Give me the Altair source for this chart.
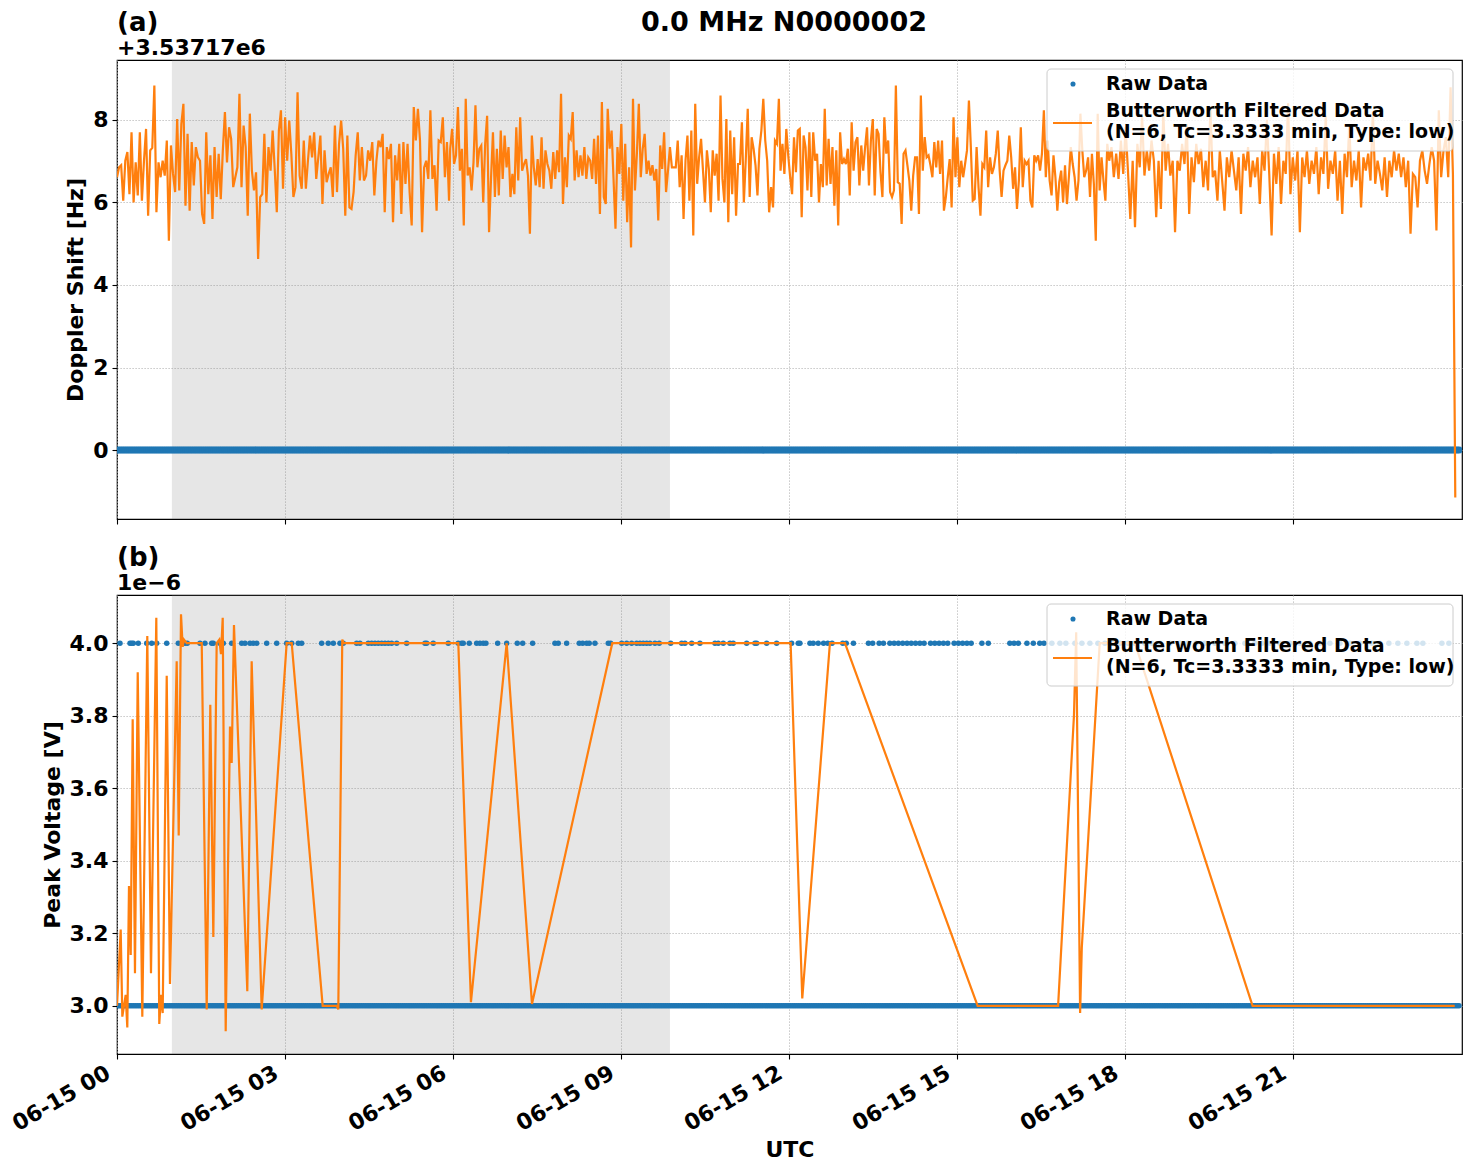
import altair as alt
import numpy as np
import pandas as pd

# ---------------- text ----------------
MAIN_TITLE = "0.0 MHz N0000002"
PANEL_LABELS = ["(a)", "(b)"]
OFFSET_LABELS = ["+3.53717e6", "1e\u22126"]
Y_TITLES = ["Doppler Shift [Hz]", "Peak Voltage [V]"]
X_TITLE = "UTC"
LEGEND_RAW = "Raw Data"
LEGEND_FILT = "Butterworth Filtered Data\n(N=6, Tc=3.3333 min, Type: low)"

X_TICKS = [0, 3, 6, 9, 12, 15, 18, 21]
X_TICK_LABELS = ["06-15 00", "06-15 03", "06-15 06", "06-15 09",
                 "06-15 12", "06-15 15", "06-15 18", "06-15 21"]
X_DOMAIN = [0.0, 24.02]
SHADE_HOURS = [0.98, 9.875]

Y_TICKS_A = [0, 2, 4, 6, 8]
Y_DOMAIN_A = [-1.67, 9.45]
Y_TICKS_B = [3.0, 3.2, 3.4, 3.6, 3.8, 4.0]
Y_DOMAIN_B = [2.867, 4.133]

# ---------------- panel (a) data ----------------
# filtered Doppler shift (Hz, relative to 3.53717e6), four consecutive stretches
DOPPLER_SEG_HOURS = [(0.0, 5.93), (5.95, 11.82), (11.85, 17.72), (17.76, 23.90)]
DOPPLER_SEG_A = [
    6.61, 6.85, 6.9, 6.04, 7.01, 7.22, 6.2, 7.7, 6.0, 6.97,
    6.17, 7.7, 6.04, 7.01, 7.78, 5.68, 7.26, 7.32, 8.83, 5.76,
    6.97, 6.61, 7.01, 6.65, 7.5, 5.07, 7.38, 6.69, 6.25, 8.02,
    6.29, 7.9, 8.39, 5.92, 7.66, 5.8, 7.46, 6.41, 7.34, 7.09,
    7.01, 5.72, 5.48, 7.7, 6.2, 7.14, 5.6, 7.34, 6.13, 7.18,
    6.08, 7.26, 8.19, 6.97, 7.82, 7.54, 6.37, 6.61, 6.85, 8.63,
    6.37, 7.86, 7.34, 5.68, 8.15, 6.77, 6.29, 6.73, 4.63, 6.13,
    6.2, 7.66, 6.0, 7.34, 6.77, 7.74, 6.81, 5.76, 7.74, 8.23,
    6.33, 8.06, 7.01, 7.98, 7.18, 6.13, 6.37, 8.67, 6.65, 6.33,
    7.5, 6.33, 7.01, 7.62, 7.09, 7.7, 6.57, 7.09, 7.62, 5.96,
    7.26, 6.49, 6.69, 6.85, 6.13, 7.86, 6.25, 7.42, 7.98, 7.3,
    5.68, 7.62, 5.88, 5.84, 6.25, 7.14, 7.7, 6.53, 7.34, 6.53,
    6.65, 7.26, 7.01, 7.46, 6.17, 7.01, 7.5, 7.34, 7.66, 5.76,
    7.34, 7.05, 7.42, 5.52, 7.14, 6.53, 7.42, 5.72, 7.46, 6.45,
    7.42, 6.25, 5.44, 8.31, 7.5, 8.27, 7.5, 5.28, 6.85, 7.01,
    6.57, 8.23, 6.57, 6.9, 5.8, 7.5, 7.46, 8.06, 6.61, 7.46,
    6.04,
]
DOPPLER_SEG_B = [
    7.3, 7.78, 6.93, 7.14, 8.31, 6.77, 7.3, 5.44, 8.51, 6.65,
    6.85, 6.29, 6.97, 8.35, 6.85, 7.3, 7.38, 6.0, 7.42, 8.1,
    5.28, 6.57, 7.7, 6.13, 7.3, 6.17, 7.74, 6.57, 7.62, 6.85,
    7.34, 6.13, 6.69, 6.2, 7.82, 6.53, 8.06, 6.77, 6.93, 7.05,
    6.65, 5.24, 7.62, 6.85, 6.41, 7.05, 6.37, 7.58, 6.33, 7.26,
    6.93, 6.77, 6.33, 7.22, 6.57, 7.26, 6.73, 8.63, 5.96, 7.09,
    6.37, 7.62, 7.54, 8.19, 6.53, 7.26, 6.61, 7.14, 6.65, 7.34,
    6.57, 7.09, 7.01, 6.57, 7.54, 6.45, 7.62, 5.72, 8.43, 6.13,
    5.96, 8.27, 7.3, 7.74, 6.57, 5.36, 7.34, 6.69, 7.9, 6.04,
    7.42, 5.52, 6.85, 4.91, 8.51, 6.29, 7.18, 8.39, 6.61, 7.3,
    7.66, 6.69, 7.01, 6.65, 6.9, 6.53, 6.81, 5.56, 7.38, 6.81,
    7.7, 6.25, 6.77, 7.34, 6.85, 6.85, 6.85, 7.5, 6.37, 7.14,
    5.6, 7.01, 7.62, 6.04, 7.74, 5.2, 8.39, 6.45, 7.09, 7.54,
    6.77, 6.0, 7.26, 6.81, 5.76, 7.26, 6.65, 7.18, 6.04, 8.59,
    6.57, 6.0, 8.02, 5.52, 7.74, 6.2, 7.58, 5.68, 6.93, 6.93,
    7.94, 6.0, 7.05, 8.27, 6.13, 7.58, 7.3, 6.9, 6.17, 7.3,
    7.74, 8.51, 7.5, 7.01, 5.76, 6.37, 5.88, 7.5, 7.42, 8.51,
]
DOPPLER_SEG_C = [
    6.77, 7.42, 6.69, 7.78, 7.14, 6.61, 6.2, 7.58, 6.73, 7.74,
    7.78, 5.64, 7.62, 7.34, 6.29, 7.7, 6.13, 7.7, 7.01, 7.18,
    6.0, 6.93, 6.37, 8.27, 6.41, 7.54, 6.45, 7.34, 5.92, 7.26,
    5.44, 7.7, 6.93, 7.05, 6.93, 7.3, 6.17, 7.94, 6.77, 7.46,
    7.58, 6.41, 7.38, 6.77, 7.34, 7.82, 6.41, 7.5, 8.02, 6.17,
    7.78, 7.66, 6.73, 6.13, 8.06, 7.18, 7.5, 6.25, 6.13, 6.29,
    8.83, 6.49, 6.45, 5.48, 7.18, 7.26, 6.9, 6.53, 5.8, 6.65,
    7.09, 7.09, 5.72, 8.59, 6.77, 7.58, 7.09, 7.14, 6.9, 6.61,
    7.46, 6.85, 7.5, 6.69, 7.5, 5.8, 6.13, 6.61, 7.05, 5.88,
    8.06, 6.61, 7.58, 6.37, 7.01, 6.61, 6.93, 7.26, 8.47, 7.34,
    6.04, 6.08, 7.34, 6.37, 5.68, 6.93, 6.85, 7.74, 6.37, 7.09,
    6.69, 6.85, 7.18, 7.74, 6.77, 6.13, 6.77, 6.9, 7.01, 7.62,
    7.09, 6.33, 6.85, 5.84, 6.53, 7.82, 6.37, 7.01, 6.93, 7.01,
    6.04, 5.88, 7.14, 7.01, 7.14, 6.77, 7.18, 8.23, 6.61, 7.5,
    6.53, 6.17, 7.14, 6.61, 5.8, 6.49, 6.77, 6.0, 6.9, 5.96,
    6.61, 7.34, 6.93, 6.61, 6.04, 6.53, 8.15, 7.26, 6.61, 6.77,
    7.09, 6.13, 7.18, 6.45, 5.07, 8.15, 6.29, 7.09, 6.53, 6.04,
    7.42, 7.01,
]
DOPPLER_SEG_D = [
    7.34, 6.61, 7.18, 6.57, 7.5, 6.69, 7.82, 6.77, 5.6, 7.01,
    5.4, 7.42, 6.85, 8.1, 6.65, 7.26, 6.77, 7.5, 7.01, 5.64,
    7.01, 5.84, 8.2, 6.77, 7.42, 6.65, 7.01, 5.28, 7.01, 6.77,
    7.42, 6.93, 7.9, 5.72, 7.09, 6.49, 7.42, 6.93, 7.3, 6.37,
    7.01, 6.29, 8.3, 6.61, 6.77, 6.04, 7.26, 6.53, 5.8, 7.09,
    6.61, 7.26, 6.77, 6.29, 7.09, 5.72, 7.18, 6.77, 7.34, 6.37,
    7.01, 6.61, 7.09, 5.96, 7.26, 6.77, 8.0, 6.69, 5.2, 7.18,
    6.45, 7.34, 5.96, 7.01, 6.69, 8.4, 6.2, 7.09, 6.53, 7.26,
    5.28, 7.09, 6.61, 7.26, 6.45, 7.01, 6.69, 7.34, 6.2, 7.09,
    6.69, 8.1, 6.33, 7.01, 6.69, 7.26, 6.04, 7.01, 5.72, 7.18,
    6.61, 7.9, 6.37, 7.01, 6.53, 7.26, 5.88, 7.09, 6.77, 7.18,
    6.53, 8.2, 6.45, 7.01, 6.69, 6.29, 7.09, 6.13, 7.01, 6.61,
    7.26, 6.77, 7.18, 6.61, 7.09, 6.37, 7.01, 5.24, 6.69, 6.61,
    5.88, 7.01, 7.26, 6.77, 6.45, 6.93, 7.34, 7.01, 5.32, 8.23,
    6.61, 7.26, 7.58, 6.61, 8.79, 6.69, -1.15,
]
RAW_DOPPLER_LEVEL = 0.0          # raw Doppler points all sit at the offset
RAW_SAMPLE_STEP_H = 1.0 / 30.0   # raw sampling every 2 minutes

# ---------------- panel (b) data ----------------
RAW_V_LOW = 3.0
RAW_V_HIGH = 4.0
RAW_V_HIGH_HOURS = [
    0.054, 0.232, 0.262, 0.291, 0.380, 0.530, 0.620, 0.709, 0.888, 1.095,
    1.155, 1.214, 1.255, 1.482, 1.571, 1.691, 1.720, 1.839, 1.898, 2.048,
    2.227, 2.286, 2.375, 2.434, 2.495, 2.673, 2.852, 3.030, 3.120, 3.238,
    3.298, 3.655, 3.773, 3.863, 3.982, 4.041, 4.280, 4.339, 4.488, 4.548,
    4.607, 4.666, 4.727, 4.786, 4.845, 4.905, 4.995, 5.173, 5.500, 5.530,
    5.648, 5.916, 6.095, 6.155, 6.184, 6.291, 6.423, 6.482, 6.541, 6.589,
    6.798, 6.959, 7.148, 7.245, 7.423, 7.821, 7.880, 8.030, 8.255, 8.316,
    8.388, 8.434, 8.536, 8.773, 8.816, 9.013, 9.102, 9.191, 9.280, 9.339,
    9.398, 9.459, 9.518, 9.607, 9.684, 9.888, 10.084, 10.143, 10.263, 10.411,
    10.679, 10.738, 10.827, 10.946, 11.005, 11.245, 11.393, 11.423, 11.602, 11.780,
    12.048, 12.166, 12.196, 12.375, 12.434, 12.523, 12.618, 12.693, 12.770, 12.961,
    13.023, 13.152, 13.420, 13.496, 13.611, 13.688, 13.802, 13.879, 13.955, 14.032,
    14.109, 14.184, 14.261, 14.338, 14.414, 14.529, 14.605, 14.682, 14.759, 14.836,
    14.950, 15.027, 15.102, 15.179, 15.255, 15.446, 15.561, 15.945, 16.020, 16.096,
    16.250, 16.364, 16.479, 16.555, 16.696, 16.839, 16.946, 17.107, 17.232, 17.375,
    17.518, 17.643, 17.768, 17.911, 18.054, 18.179, 18.357, 18.482, 18.625, 18.804,
    18.982, 19.125, 19.268, 19.429, 19.607, 19.786, 19.964, 20.143, 20.321, 20.446,
    20.589, 20.768, 20.946, 21.125, 21.304, 21.482, 21.661, 21.839, 22.018, 22.196,
    22.411, 22.554, 22.714, 22.875, 23.036, 23.214, 23.321, 23.661, 23.786,
]
FILT_V_HOURS = [
    0.0, 0.066, 0.095, 0.125, 0.155, 0.184, 0.214, 0.245, 0.280, 0.321,
    0.370, 0.452, 0.541, 0.607, 0.702, 0.755, 0.786, 0.816, 0.888, 0.946,
    1.066, 1.102, 1.143, 1.173, 1.196, 1.245, 1.513, 1.602, 1.666, 1.720,
    1.780, 1.827, 1.857, 1.888, 1.941, 2.018, 2.048, 2.089, 2.327, 2.405,
    2.584, 3.030, 3.120, 3.673, 3.923, 3.952, 4.023, 4.050, 6.095, 6.321,
    6.959, 7.411, 8.845, 12.030, 12.238, 12.732, 13.000, 15.370, 16.807, 17.090,
    17.130, 17.200, 17.230, 17.550, 18.180, 20.280, 23.890,
]
FILT_V_VALUES = [
    3.00, 3.21, 2.97, 3.00, 3.03, 2.94, 3.33, 3.14, 3.79, 3.09,
    3.92, 2.97, 4.02, 3.09, 4.07, 2.95, 3.03, 2.98, 3.91, 3.06,
    3.95, 3.47, 4.08, 3.99, 4.01, 4.00, 4.00, 2.99, 3.83, 3.19,
    4.00, 4.01, 3.97, 4.07, 2.93, 3.77, 3.67, 4.05, 3.04, 3.95,
    2.99, 4.00, 4.00, 3.00, 3.00, 2.99, 4.01, 4.00, 4.00, 3.01,
    4.00, 3.005, 4.00, 4.00, 3.02, 4.00, 4.00, 3.00, 3.00, 3.80,
    4.03, 2.98, 3.16, 4.00, 4.00, 3.00, 3.00,
]

# ---------------- style ----------------
BLUE = "#1f77b4"
ORANGE = "#ff7f0e"
FONT = "DejaVu Sans"
W, H = 1345, 459

# ---------------- tables ----------------
segs = [DOPPLER_SEG_A, DOPPLER_SEG_B, DOPPLER_SEG_C, DOPPLER_SEG_D]
t_parts, v_parts = [], []
for (h0, h1), seg in zip(DOPPLER_SEG_HOURS, segs):
    t_parts.append(np.linspace(h0, h1, len(seg)))
    v_parts.append(np.array(seg))
df_filt_a = pd.DataFrame({"h": np.concatenate(t_parts), "v": np.concatenate(v_parts)})

raw_grid = np.arange(0.0, 24.0, RAW_SAMPLE_STEP_H)
df_raw_a = pd.DataFrame({"h": raw_grid, "v": RAW_DOPPLER_LEVEL})
df_raw_b = pd.concat([
    pd.DataFrame({"h": raw_grid, "v": RAW_V_LOW}),
    pd.DataFrame({"h": RAW_V_HIGH_HOURS, "v": RAW_V_HIGH}),
])
df_filt_b = pd.DataFrame({"h": FILT_V_HOURS, "v": FILT_V_VALUES})
df_shade = pd.DataFrame({"h": [SHADE_HOURS[0]], "h2": [SHADE_HOURS[1]]})
one = pd.DataFrame({"k": [0]})

label_expr = "[" + ",".join(f"'{s}'" for s in X_TICK_LABELS) + "][round(datum.value / 3)]"


def x_enc(show_labels):
    return alt.X(
        "h:Q",
        scale=alt.Scale(domain=X_DOMAIN, nice=False, zero=False),
        axis=alt.Axis(
            values=X_TICKS,
            labels=show_labels,
            labelExpr=label_expr,
            labelAngle=330,
            labelAlign="right",
            labelBaseline="top",
            labelOffset=-14,
            labelPadding=3,
            title=X_TITLE if show_labels else None,
        ),
    )


def panel(df_raw, df_filt, y_domain, y_ticks, y_fmt, y_title, label, offset_text,
          raw_size, with_main_title):
    show = not with_main_title
    y = alt.Y("v:Q", scale=alt.Scale(domain=y_domain, nice=False, zero=False),
              axis=alt.Axis(values=y_ticks, format=y_fmt, title=y_title))
    shade = alt.Chart(df_shade).mark_rect(color="gray", opacity=0.2).encode(
        x=x_enc(show), x2="h2:Q",
    )
    raw = alt.Chart(df_raw).mark_circle(color=BLUE, size=raw_size, opacity=1,
                                        clip=True).encode(x=x_enc(show), y=y)
    filt = alt.Chart(df_filt).mark_line(color=ORANGE, strokeWidth=2.2,
                                        clip=True).encode(x=x_enc(show), y=y)
    # legend
    box = alt.Chart(one).mark_rect(fill="white", fillOpacity=0.8, stroke="#cccccc",
                                   strokeWidth=1, cornerRadius=4).encode(
        x=alt.value(930), x2=alt.value(1336), y=alt.value(9), y2=alt.value(91))
    ldot = alt.Chart(one).mark_circle(color=BLUE, size=26, opacity=1).encode(
        x=alt.value(956), y=alt.value(24))
    lline = alt.Chart(one).mark_rule(color=ORANGE, strokeWidth=2.2).encode(
        x=alt.value(936), x2=alt.value(975), y=alt.value(63))
    ltxt1 = alt.Chart(one).mark_text(align="left", baseline="middle", font=FONT,
                                     fontSize=19, fontWeight="bold", color="black").encode(
        x=alt.value(989), y=alt.value(24), text=alt.value(LEGEND_RAW))
    ltxt2 = alt.Chart(one).mark_text(align="left", baseline="middle", font=FONT,
                                     fontSize=19, fontWeight="bold", color="black",
                                     lineBreak="\n", lineHeight=21).encode(
        x=alt.value(989), y=alt.value(51), text=alt.value(LEGEND_FILT))
    # panel label and offset text
    plabel = alt.Chart(one).mark_text(align="left", baseline="alphabetic", font=FONT,
                                      fontSize=26, fontWeight="bold", color="black").encode(
        x=alt.value(0), y=alt.value(-29), text=alt.value(label))
    otext = alt.Chart(one).mark_text(align="left", baseline="alphabetic", font=FONT,
                                     fontSize=22, fontWeight="bold", color="black").encode(
        x=alt.value(0), y=alt.value(-5), text=alt.value(offset_text))
    layers = [shade, raw, filt, box, ldot, lline, ltxt1, ltxt2, plabel, otext]
    if with_main_title:
        mt = alt.Chart(one).mark_text(align="center", baseline="alphabetic", font=FONT,
                                      fontSize=27, fontWeight="bold", color="black").encode(
            x=alt.value(667), y=alt.value(-29), text=alt.value(MAIN_TITLE))
        layers.append(mt)
    return alt.layer(*layers).properties(width=W, height=H)


top = panel(df_raw_a, df_filt_a, Y_DOMAIN_A, Y_TICKS_A, "d", Y_TITLES[0],
            PANEL_LABELS[0], OFFSET_LABELS[0], 50, True)
bottom = panel(df_raw_b, df_filt_b, Y_DOMAIN_B, Y_TICKS_B, ".1f", Y_TITLES[1],
               PANEL_LABELS[1], OFFSET_LABELS[1], 30, False)

chart = alt.vconcat(top, bottom, spacing=18).properties(
    padding={"left": 7, "top": 8, "right": 4, "bottom": 4},
    background="white",
).configure(font=FONT).configure_view(
    stroke="black", strokeWidth=1.2
).configure_axis(
    labelFont=FONT, labelFontSize=22, labelFontWeight="bold", labelColor="black",
    titleFont=FONT, titleFontSize=22, titleFontWeight="bold", titleColor="black",
    tickColor="black", tickSize=5, tickWidth=1.1, labelPadding=4, titlePadding=5,
    domain=False, grid=True, gridColor="#b0b0b0", gridDash=[1.2, 1.8], gridWidth=0.9,
    labelOverlap=False,
)

chart.save("out.html", embed_options={"renderer": "svg", "actions": False})
